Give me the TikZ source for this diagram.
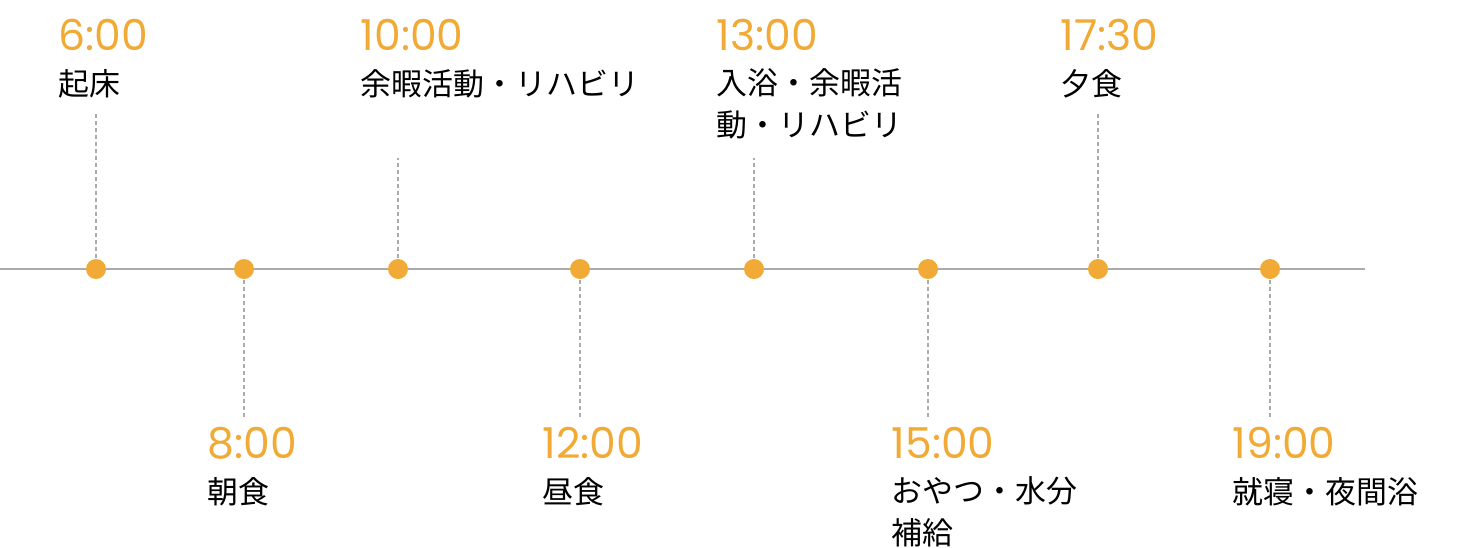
\documentclass[tikz,border=0pt]{standalone}
\usepackage{fontspec}
\newfontfamily\timefont{Poppins}
\newfontfamily\jpfont{Noto Sans CJK JP}
\usepackage{tikz}
\usetikzlibrary{positioning}
\definecolor{dotorange}{HTML}{F0AA35}
\definecolor{axisgray}{HTML}{ABABAB}

\begin{document}
\begin{tikzpicture}[
    every node/.style={inner sep=0pt},
    dot/.style={circle, fill=dotorange, minimum size=0.2cm},
    timelbl/.style={anchor=base west, text=dotorange, font=\timefont\fontsize{12.1}{14}\selectfont},
    eventlbl/.style={anchor=base west, align=left, font=\jpfont\fontsize{8.8}{11.7}\selectfont},
    guide/.style={draw=axisgray, line width=0.35pt, dash pattern=on 1.15pt off 0.85pt}
]
    \useasboundingbox (0, -2.78) rectangle (14.70, 2.69);

    % Axis (y=0)
    \coordinate (axisL) at (0, 0);
    \coordinate (axisR) at (13.65, 0);
    \draw[axisgray, line width=0.6pt] (axisL) -- (axisR);

    % Dots on the axis
    \node[dot] (d600) at (0.96, 0) {};
    \node[dot] (d800) at (2.44, 0) {};
    \node[dot] (d1000) at (3.98, 0) {};
    \node[dot] (d1200) at (5.80, 0) {};
    \node[dot] (d1300) at (7.54, 0) {};
    \node[dot] (d1500) at (9.28, 0) {};
    \node[dot] (d1730) at (10.98, 0) {};
    \node[dot] (d1900) at (12.70, 0) {};

    % Guide ends
    \coordinate (g600) at (0.96, 1.57);
    \coordinate (g800) at (2.44, -1.49);
    \coordinate (g1000) at (3.98, 1.11);
    \coordinate (g1200) at (5.80, -1.49);
    \coordinate (g1300) at (7.54, 1.11);
    \coordinate (g1500) at (9.28, -1.49);
    \coordinate (g1730) at (10.98, 1.57);
    \coordinate (g1900) at (12.70, -1.49);

    % Dashed guides
    \draw[guide] (d600) -- (g600);
    \draw[guide] (d800) -- (g800);
    \draw[guide] (d1000) -- (g1000);
    \draw[guide] (d1200) -- (g1200);
    \draw[guide] (d1300) -- (g1300);
    \draw[guide] (d1500) -- (g1500);
    \draw[guide] (d1730) -- (g1730);
    \draw[guide] (d1900) -- (g1900);

    % Upper labels (two-line text sits on its last baseline)
    \node[timelbl] (t600) at (0.58, 2.19) {6:00};
    \node[eventlbl] (e600) at (0.58, 1.74) {起床};
    \node[timelbl] (t1000) at (3.60, 2.19) {10:00};
    \node[eventlbl] (e1000) at (3.60, 1.74) {余暇活動・リハビリ};
    \node[timelbl] (t1300) at (7.16, 2.19) {13:00};
    \node[eventlbl] (e1300) at (7.16, 1.33) {入浴・余暇活\\動・リハビリ};
    \node[timelbl] (t1730) at (10.60, 2.19) {17:30};
    \node[eventlbl] (e1730) at (10.60, 1.74) {夕食};

    % Lower labels
    \node[timelbl] (t800) at (2.07, -1.89) {8:00};
    \node[eventlbl] (e800) at (2.07, -2.34) {朝食};
    \node[timelbl] (t1200) at (5.42, -1.89) {12:00};
    \node[eventlbl] (e1200) at (5.42, -2.34) {昼食};
    \node[timelbl] (t1500) at (8.91, -1.89) {15:00};
    \node[eventlbl] (e1500) at (8.91, -2.75) {おやつ・水分\\補給};
    \node[timelbl] (t1900) at (12.32, -1.89) {19:00};
    \node[eventlbl] (e1900) at (12.32, -2.34) {就寝・夜間浴};
\end{tikzpicture}
\end{document}
